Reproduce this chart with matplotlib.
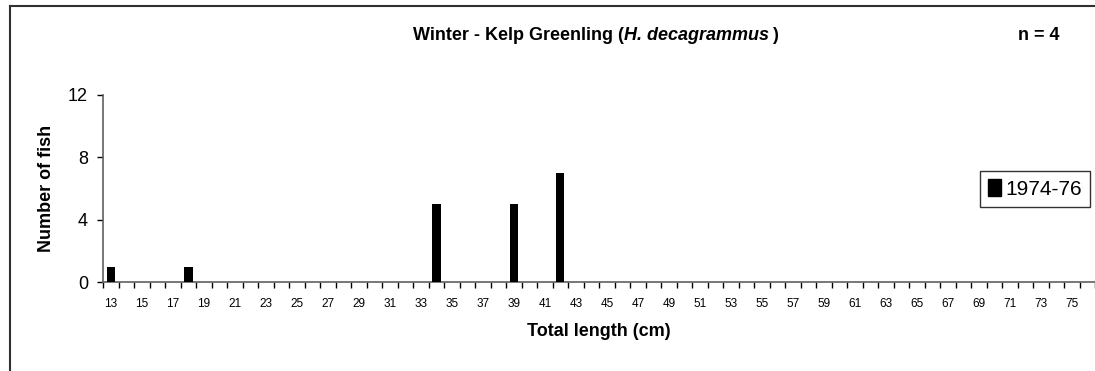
import numpy as np
import matplotlib
matplotlib.use("Agg")
import matplotlib.pyplot as plt
from matplotlib.lines import Line2D
from matplotlib.patches import Patch
from matplotlib.ticker import FixedLocator

plt.rcParams["font.family"] = ["Liberation Sans", "DejaVu Sans"]

# Length classes (cm) and counts per class
lengths = list(range(13, 77))
fish_lengths = [13, 18, 34, 39, 42]
fish_counts = [1, 1, 5, 5, 7]
counts = [fish_counts[fish_lengths.index(l)] if l in fish_lengths else 0 for l in lengths]
tick_labels = [str(l) for l in range(13, 76, 2)]
series_name = "1974-76"

fig = plt.figure(figsize=(10.95, 3.71), dpi=100)
ax = fig.add_axes([0.0943, 0.239, 0.9057, 0.505])

ax.bar(lengths, counts, width=0.53, color="black", zorder=3)

ax.set_xlim(12.5, 76.5)
ax.set_ylim(0, 12)
ax.set_yticks([0, 4, 8, 12])

ax.xaxis.set_major_locator(FixedLocator(list(range(13, 76, 2))))
ax.set_xticklabels(tick_labels, fontsize=8.5)
ax.xaxis.set_minor_locator(FixedLocator(list(np.arange(12.5, 77, 1))))
ax.tick_params(axis="x", which="major", length=0, pad=11)
ax.tick_params(axis="x", which="minor", length=4, width=1, color="black", direction="out")
ax.tick_params(axis="y", length=4, width=1, pad=7, labelsize=13, direction="out")

for side in ("top", "right"):
    ax.spines[side].set_visible(False)
for side in ("left", "bottom"):
    ax.spines[side].set_color("#606060")
    ax.spines[side].set_linewidth(1.2)

ax.set_ylabel("Number of fish", fontsize=13, fontweight="bold", labelpad=9)
fig.text(599 / 1095, 1 - 332 / 371, "Total length (cm)", fontsize=13,
         fontweight="bold", ha="center", va="center")

# Title in three pieces so the species name can be italic
fig.canvas.draw()
renderer = fig.canvas.get_renderer()
pieces = [("Winter - Kelp Greenling (", "normal"),
          ("H. decagrammus", "italic"),
          (" )", "normal")]
texts = []
for s, style in pieces:
    t = fig.text(0, 0, s, fontsize=13, fontweight="bold", style=style, va="center")
    texts.append(t)
widths = [t.get_window_extent(renderer).width for t in texts]
x0 = 596 - sum(widths) / 2
y0 = 371 - 35
for t, w in zip(texts, widths):
    t.set_position((x0 / 1095, y0 / 371))
    x0 += w

fig.text(1039 / 1095, 1 - 35 / 371, "n = 4", fontsize=13, fontweight="bold",
         ha="center", va="center")

leg = ax.legend(handles=[Patch(facecolor="black", edgecolor="black", label=series_name)],
                loc="center", bbox_to_anchor=(1035 / 1095, 1 - 189 / 371),
                bbox_transform=fig.transFigure, fontsize=15, frameon=True,
                fancybox=False, handlelength=0.6, handleheight=0.9,
                handletextpad=0.2, borderpad=0.4, borderaxespad=0)
leg.get_frame().set_edgecolor("black")
leg.get_frame().set_linewidth(1.0)

# Outer frame on the left and top edges
fig.add_artist(Line2D([10 / 1095, 10 / 1095], [0, 1 - 6 / 371],
                      transform=fig.transFigure, color="#303030", lw=1.5))
fig.add_artist(Line2D([10 / 1095, 1], [1 - 6 / 371, 1 - 6 / 371],
                      transform=fig.transFigure, color="#303030", lw=1.5))

fig.savefig("out.png", dpi=100)
